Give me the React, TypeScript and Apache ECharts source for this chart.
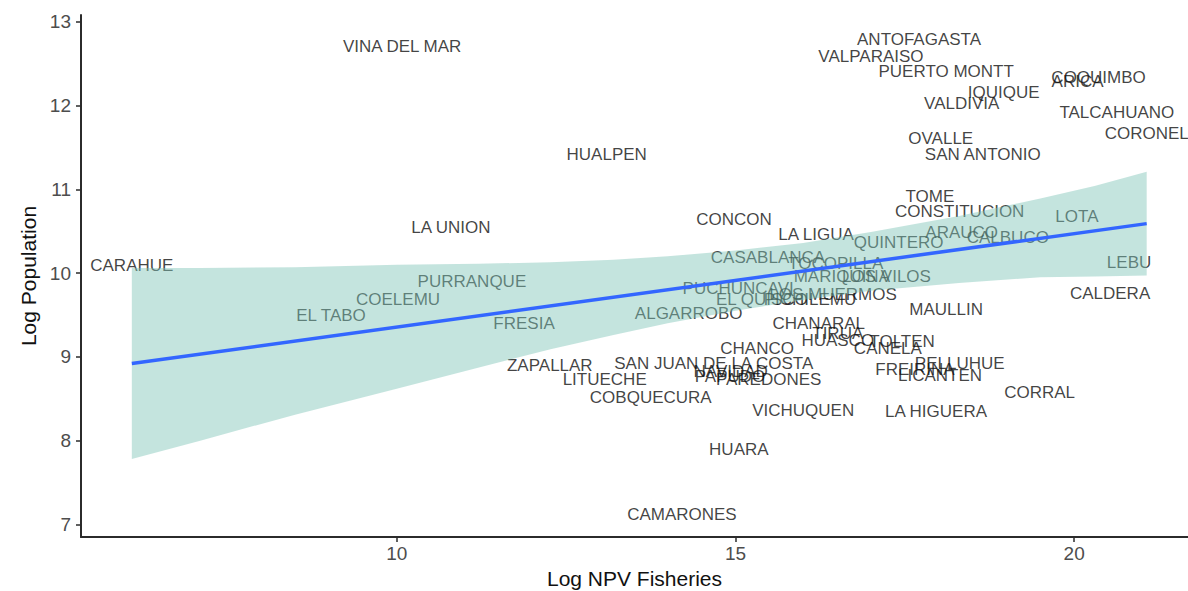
import React, { useEffect, useRef } from "react";
import * as echarts from "echarts";

// Municipality labels with (Log NPV Fisheries, Log Population)
const names = [
  "CARAHUE", "VINA DEL MAR", "HUALPEN", "LA UNION", "PURRANQUE", "COELEMU", "EL TABO", "FRESIA",
  "ALGARROBO", "CONCON", "LA LIGUA", "CASABLANCA", "PUCHUNCAVI", "EL QUISCO", "PICHILEMU", "LOS MUERMOS",
  "TOCOPILLA", "MARIQUINA", "LOS VILOS", "QUINTERO", "ARAUCO", "CALBUCO", "LOTA", "LEBU",
  "CALDERA", "CONSTITUCION", "TOME", "MAULLIN", "CHANARAL", "HUASCO", "TIRUA", "TOLTEN",
  "CANELA", "CHANCO", "SAN JUAN DE LA COSTA", "ZAPALLAR", "LITUECHE", "COBQUECURA", "NAVIDAD", "PAPUDO",
  "PAREDONES", "PELLUHUE", "FREIRINA", "LICANTEN", "CORRAL", "LA HIGUERA", "VICHUQUEN", "HUARA",
  "CAMARONES", "ANTOFAGASTA", "VALPARAISO", "PUERTO MONTT", "IQUIQUE", "VALDIVIA", "COQUIMBO", "ARICA",
  "TALCAHUANO", "CORONEL", "OVALLE", "SAN ANTONIO",
];
const npv = [
  6.09, 10.08, 13.10, 10.80, 11.11, 10.02, 9.03, 11.88,
  14.31, 14.98, 16.19, 15.48, 15.04, 15.39, 16.10, 16.44,
  16.48, 16.57, 17.23, 17.41, 18.34, 19.02, 20.04, 20.81,
  20.53, 18.31, 17.87, 18.11, 16.23, 16.51, 16.51, 17.46,
  17.25, 15.32, 14.68, 12.26, 13.07, 13.75, 14.93, 14.92,
  15.49, 18.31, 17.65, 18.02, 19.49, 17.96, 16.00, 15.05,
  14.21, 17.71, 17.00, 18.11, 18.96, 18.34, 20.36, 20.05,
  20.63, 21.07, 18.03, 18.65,
];
const population = [
  10.09, 12.71, 11.42, 10.54, 9.90, 9.69, 9.49, 9.40,
  9.52, 10.64, 10.46, 10.19, 9.82, 9.68, 9.69, 9.75,
  10.12, 9.96, 9.96, 10.37, 10.49, 10.42, 10.68, 10.13,
  9.76, 10.73, 10.91, 9.56, 9.40, 9.20, 9.28, 9.18,
  9.10, 9.10, 8.92, 8.90, 8.73, 8.52, 8.82, 8.76,
  8.73, 8.92, 8.85, 8.78, 8.57, 8.35, 8.36, 7.90,
  7.12, 12.79, 12.59, 12.40, 12.16, 12.02, 12.33, 12.29,
  11.92, 11.66, 11.61, 11.41,
];

// Fitted line and confidence band
const fitX = [6.09, 21.07];
const fitY = [8.92, 10.59];
const bandX = [6.09, 7.1, 8.5, 10.0, 11.2, 12.27, 13.2, 14.0, 15.0, 16.0, 17.0, 18.3, 19.5, 20.3, 21.07];
const bandUpper = [10.06, 10.06, 10.07, 10.10, 10.11, 10.13, 10.16, 10.20, 10.27, 10.36, 10.49, 10.68, 10.89, 11.04, 11.21];
const bandLower = [7.78, 8.0, 8.31, 8.62, 8.87, 9.09, 9.26, 9.40, 9.55, 9.68, 9.79, 9.88, 9.95, 9.96, 9.97];

const xTicks = [10, 15, 20];
const yTicks = [7, 8, 9, 10, 11, 12, 13];

const FONT = "'Liberation Sans', Arial, Helvetica, sans-serif";

export default function App() {
  const ref = useRef<HTMLDivElement>(null);
  useEffect(() => {
    if (!ref.current) return;
    const chart = echarts.init(ref.current, null, { renderer: "svg" });
    const scatterData = names.map((n, i) => ({ name: n, value: [npv[i], population[i]] }));
    const bandData = bandX.map((x, i) => [x, bandUpper[i], bandLower[i]]);
    const axisLine = { show: true, lineStyle: { color: "#2b2b2b", width: 2 } };
    const axisTick = { show: true, length: 5, lineStyle: { color: "#2b2b2b", width: 1.5 } };
    chart.setOption({
      animation: false,
      backgroundColor: "#ffffff",
      textStyle: { fontFamily: FONT },
      grid: { left: 81, right: 0, top: 15, bottom: 54, containLabel: false, outerBoundsMode: "none" },
      xAxis: {
        type: "value",
        min: 5.34,
        max: 21.68,
        name: "Log NPV Fisheries",
        nameLocation: "middle",
        nameGap: 30,
        nameTextStyle: { color: "#111", fontSize: 21, fontFamily: FONT },
        axisLine,
        axisTick: { ...axisTick, customValues: xTicks },
        axisLabel: { customValues: xTicks, color: "#4d4d4d", fontSize: 19, margin: 7, fontFamily: FONT },
        splitLine: { show: false },
      },
      yAxis: {
        type: "value",
        min: 6.85,
        max: 13.08,
        name: "Log Population",
        nameLocation: "middle",
        nameGap: 37,
        nameTextStyle: { color: "#111", fontSize: 21, fontFamily: FONT },
        axisLine,
        axisTick: { ...axisTick, customValues: yTicks },
        axisLabel: { customValues: yTicks, color: "#4d4d4d", fontSize: 19, margin: 10, fontFamily: FONT },
        splitLine: { show: false },
      },
      series: [
        {
          type: "scatter",
          z: 1,
          data: scatterData,
          symbolSize: 1,
          itemStyle: { color: "rgba(0,0,0,0)" },
          label: {
            show: true,
            position: "inside",
            formatter: "{b}",
            color: "#111111",
            fontSize: 17,
            fontFamily: FONT,
          },
          emphasis: { disabled: true },
        },
        {
          type: "custom",
          z: 5,
          silent: true,
          data: bandData,
          renderItem: (params: any, api: any) => {
            if (params.dataIndex !== 0) return null;
            const up = bandData.map((d) => api.coord([d[0], d[1]]));
            const lo = bandData.map((d) => api.coord([d[0], d[2]])).reverse();
            return {
              type: "polygon",
              shape: { points: up.concat(lo) },
              style: { fill: "rgba(126,196,183,0.46)" },
            };
          },
        },
        {
          type: "line",
          z: 6,
          silent: true,
          data: fitX.map((x, i) => [x, fitY[i]]),
          symbol: "none",
          lineStyle: { color: "#3366ff", width: 3.5 },
        },
      ],
    });
    return () => chart.dispose();
  }, []);
  return (
    <div
      ref={ref}
      style={{ position: "fixed", left: 0, top: 0, width: 1188, height: 591, background: "#fff" }}
    />
  );
}
